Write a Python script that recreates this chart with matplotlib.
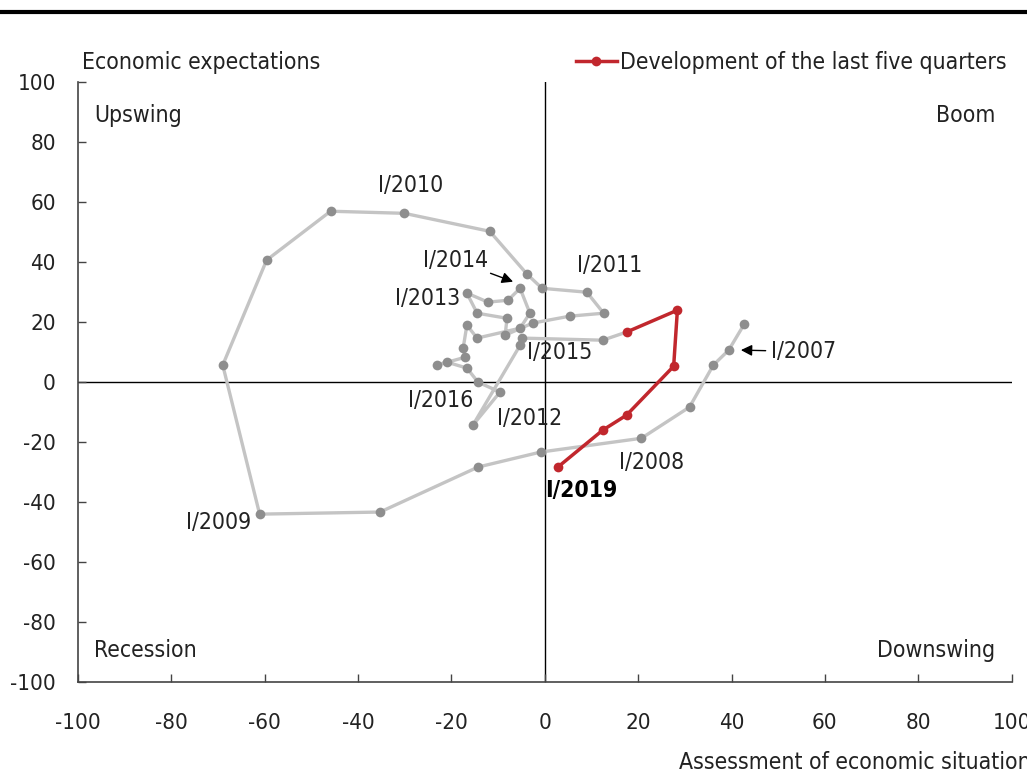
import matplotlib
matplotlib.use("Agg")
import matplotlib.pyplot as plt
from matplotlib.lines import Line2D

plt.rcParams['font.family'] = ['DejaVu Sans']
plt.rcParams['font.stretch'] = 'condensed'

# Assessment of economic situation (x) and economic expectations (y), quarterly from I/2007
hist_x = [42.7, 39.4, 36.1, 31.0, 20.7, -0.9, -14.3, -35.3, -61.1, -69.0, -59.6, -45.9, -30.1, -11.8,
          -3.8, -0.6, 9.0, 12.6, 5.3, -2.6, -8.5, -8.1, -14.5, -16.7, -12.2, -7.9, -5.3, -3.2,
          -5.3, -14.5, -16.7, -17.5, -17.1, -23.1, -21.0, -16.7, -14.3, -9.6, -15.4, -5.3, -4.9, 12.4]
hist_y = [19.3, 10.7, 5.7, -8.3, -18.7, -23.3, -28.3, -43.3, -44.0, 5.7, 40.7, 57.0, 56.3, 50.3,
          36.0, 31.3, 30.0, 23.0, 22.0, 19.7, 15.7, 21.3, 23.0, 29.7, 26.7, 27.3, 31.3, 23.0,
          18.0, 14.7, 19.0, 11.3, 8.3, 5.7, 6.7, 4.7, 0.0, -3.3, -14.3, 12.3, 14.7, 14.0]

# last five quarters
last_x = [17.5, 28.4, 27.6, 17.5, 12.4, 2.8]
last_y = [16.7, 24.0, 5.3, -11.0, -16.0, -28.3]

ticks = [-100, -80, -60, -40, -20, 0, 20, 40, 60, 80, 100]
tick_labels = ['-100', '-80', '-60', '-40', '-20', '0', '20', '40', '60', '80', '100']

gray_line = '#c4c4c4'
gray_dot = '#8e8e8e'
red = '#c1272d'

fig = plt.figure(figsize=(10.27, 7.76), dpi=100)
ax = fig.add_axes([0.076, 0.121, 0.909, 0.773])

# gray history, joined to the first red point
ax.plot(hist_x + last_x[:1], hist_y + last_y[:1], color=gray_line, lw=2.4, zorder=2)
ax.plot(hist_x, hist_y, 'o', color=gray_dot, ms=7, mec='none', zorder=3)
ax.plot(last_x, last_y, '-o', color=red, lw=2.5, ms=7, mec='none', zorder=4,
        label='Development of the last five quarters')

ax.axhline(0, color='black', lw=1, zorder=1)
ax.axvline(0, color='black', lw=1, zorder=1)

ax.set_xlim(-100, 100)
ax.set_ylim(-100, 100)
ax.set_xticks(ticks)
ax.set_xticklabels(tick_labels)
ax.set_yticks(ticks)
ax.set_yticklabels(tick_labels)
ax.tick_params(direction='in', length=6, width=1, color='#444444', labelsize=16, labelcolor='#222222')
ax.tick_params(axis='x', pad=22)
ax.tick_params(axis='y', pad=16)
for s in ['top', 'right']:
    ax.spines[s].set_visible(False)
for s in ['left', 'bottom']:
    ax.spines[s].set_color('#444444')
    ax.spines[s].set_linewidth(1.2)

fs = 16.5
tc = '#222222'
# quadrants
ax.text(-96.5, 89, 'Upswing', fontsize=fs, color=tc, va='center', ha='left')
ax.text(96.5, 89, 'Boom', fontsize=fs, color=tc, va='center', ha='right')
ax.text(-96.5, -89.3, 'Recession', fontsize=fs, color=tc, va='center', ha='left')
ax.text(96.5, -89.3, 'Downswing', fontsize=fs, color=tc, va='center', ha='right')

# quarter labels
ax.text(-28.8, 65.7, 'I/2010', fontsize=fs, color=tc, ha='center', va='center')
ax.text(13.9, 39, 'I/2011', fontsize=fs, color=tc, ha='center', va='center')
ax.text(-25.2, 28, 'I/2013', fontsize=fs, color=tc, ha='center', va='center')
ax.text(3.2, 10, 'I/2015', fontsize=fs, color=tc, ha='center', va='center')
ax.text(-22.4, -6, 'I/2016', fontsize=fs, color=tc, ha='center', va='center')
ax.text(-3.2, -12, 'I/2012', fontsize=fs, color=tc, ha='center', va='center')
ax.text(22.9, -26.7, 'I/2008', fontsize=fs, color=tc, ha='center', va='center')
ax.text(-69.9, -46.7, 'I/2009', fontsize=fs, color=tc, ha='center', va='center')
ax.text(7.9, -36, 'I/2019', fontsize=fs, color='black', ha='center', va='center', fontweight='bold')
ax.annotate('I/2014', xy=(-6.8, 33.5), xytext=(-19.2, 40.7), fontsize=fs, color=tc,
            ha='center', va='center',
            arrowprops=dict(arrowstyle='-|>', color='black', lw=1, shrinkA=0, shrinkB=0))
ax.annotate('I/2007', xy=(42.0, 10.7), xytext=(48.5, 10.2), fontsize=fs, color=tc,
            ha='left', va='center',
            arrowprops=dict(arrowstyle='-|>', color='black', lw=1, shrinkA=2, shrinkB=0))

ax.text(0.004, 1.033, 'Economic expectations', transform=ax.transAxes, fontsize=fs,
        color=tc, ha='left', va='center')
fig.text(1.004, 0.018, 'Assessment of economic situation', fontsize=fs, color=tc,
         ha='right', va='center')

ax.legend(loc='center right', bbox_to_anchor=(1.005, 1.033), frameon=False, fontsize=fs,
          handlelength=1.8, handletextpad=0.15, borderaxespad=0, labelcolor=tc)

# rule at the top
fig.add_artist(Line2D([0, 1], [0.984, 0.984], transform=fig.transFigure, color='black', lw=3))

fig.savefig('out.png', dpi=100)
